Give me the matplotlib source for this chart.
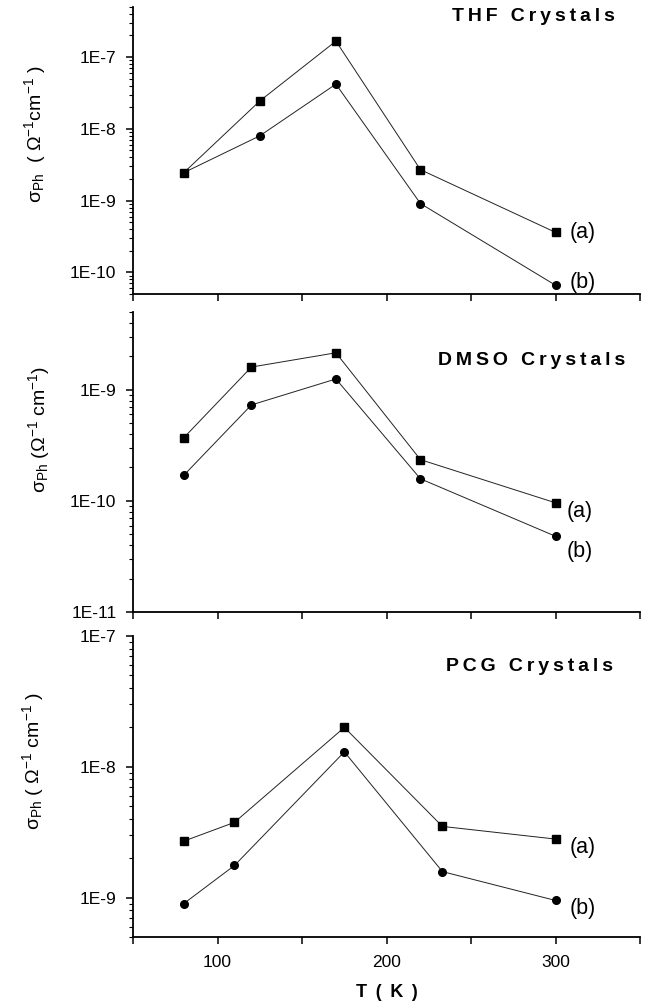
import matplotlib
matplotlib.use('Agg')
import matplotlib.pyplot as plt
from matplotlib.ticker import LogLocator, MultipleLocator, FuncFormatter, NullFormatter
import numpy as np

plt.rcParams['font.family'] = ['Liberation Sans', 'DejaVu Sans']
plt.rcParams['mathtext.fontset'] = 'custom'
plt.rcParams['mathtext.rm'] = 'Liberation Sans'
plt.rcParams['mathtext.it'] = 'Liberation Sans:italic'
plt.rcParams['mathtext.bf'] = 'Liberation Sans:bold'

###
# data

T_thf = [80, 125, 170, 220, 300]
thf_a = [2.45e-9, 2.45e-8, 1.67e-7, 2.7e-9, 3.6e-10]
thf_b = [2.45e-9, 8.0e-9, 4.2e-8, 9.1e-10, 6.6e-11]

T_dmso = [80, 120, 170, 220, 300]
dmso_a = [3.7e-10, 1.6e-9, 2.15e-9, 2.35e-10, 9.6e-11]
dmso_b = [1.7e-10, 7.3e-10, 1.25e-9, 1.58e-10, 4.8e-11]

T_pcg = [80, 110, 175, 233, 300]
pcg_a = [2.7e-9, 3.76e-9, 2.0e-8, 3.5e-9, 2.8e-9]
pcg_b = [9.0e-10, 1.76e-9, 1.3e-8, 1.58e-9, 9.5e-10]

panel_names = ['THF Crystals', 'DMSO Crystals', 'PCG Crystals']
ylabels = ['σ$_{\\mathrm{Ph}}$  ( Ω$^{\\mathrm{-1}}$cm$^{\\mathrm{-1}}$ )',
           'σ$_{\\mathrm{Ph}}$ (Ω$^{\\mathrm{-1}}$ cm$^{\\mathrm{-1}}$)',
           'σ$_{\\mathrm{Ph}}$ ( Ω$^{\\mathrm{-1}}$ cm$^{\\mathrm{-1}}$ )']
xlabel = 'T \u2009( \u2009K \u2009)'


def spaced(s):
    # letter-spaced bold text, like the original
    return '\u2009'.join(s)


###
# layout

fig = plt.figure(figsize=(6.46, 10.05), dpi=100)
ax1 = fig.add_axes([0.206, 0.7075, 0.785, 0.2856])
ax2 = fig.add_axes([0.206, 0.391, 0.785, 0.2985])
ax3 = fig.add_axes([0.206, 0.0677, 0.785, 0.2995])
axes = [ax1, ax2, ax3]

ylims = [(5e-11, 5e-7), (1e-11, 5e-9), (5e-10, 1e-7)]
title_pos = [(0.951, 0.965), (0.970, 0.84), (0.947, 0.897)]
ylabel_pos = [(-0.168, 0.557), (-0.159, 0.607), (-0.171, 0.585)]
ab_offsets = [((10, 0), (10, 2)), ((8, -6), (8, -11)), ((10, -6), (10, -6))]

series = [(T_thf, thf_a, thf_b), (T_dmso, dmso_a, dmso_b), (T_pcg, pcg_a, pcg_b)]


def sci_label(v, pos):
    return '1E%d' % int(round(np.log10(v)))


for i, ax in enumerate(axes):
    T, ya, yb = series[i]
    ax.plot(T, yb, color='#222222', lw=0.7, marker='o', ms=5.5, mfc='k', mec='k')
    ax.plot(T, ya, color='#222222', lw=0.7, marker='s', ms=5.5, mfc='k', mec='k')

    ax.set_yscale('log')
    ax.set_xlim(50, 350)
    ax.set_ylim(*ylims[i])

    ax.yaxis.set_major_locator(LogLocator(base=10, numticks=10))
    ax.yaxis.set_minor_locator(LogLocator(base=10, subs=np.arange(2, 10), numticks=20))
    ax.yaxis.set_major_formatter(FuncFormatter(sci_label))
    ax.yaxis.set_minor_formatter(NullFormatter())

    ax.xaxis.set_major_locator(MultipleLocator(100))
    ax.xaxis.set_minor_locator(MultipleLocator(50))
    if i < 2:
        ax.tick_params(axis='x', which='both', labelbottom=False)

    for s in ['top', 'right']:
        ax.spines[s].set_visible(False)
    for s in ['left', 'bottom']:
        ax.spines[s].set_linewidth(1.3)

    ax.tick_params(axis='both', which='major', direction='out', length=5, width=1.1,
                   labelsize=12.5)
    ax.tick_params(axis='y', which='major', pad=7)
    ax.tick_params(axis='x', which='major', pad=8)
    ax.tick_params(axis='x', which='minor', direction='out', length=5, width=1.1)
    ax.tick_params(axis='y', which='minor', direction='out', length=3, width=0.8)

    ax.set_ylabel(ylabels[i], fontsize=14)
    ax.yaxis.set_label_coords(*ylabel_pos[i])

    ax.text(title_pos[i][0], title_pos[i][1], spaced(panel_names[i]), transform=ax.transAxes,
            ha='right', va='center', fontsize=14, fontweight='bold')

    ax.annotate('(a)', xy=(T[-1], ya[-1]), xytext=ab_offsets[i][0], textcoords='offset points',
                ha='left', va='center', fontsize=15.5)
    ax.annotate('(b)', xy=(T[-1], yb[-1]), xytext=ab_offsets[i][1], textcoords='offset points',
                ha='left', va='center', fontsize=15.5)

ax3.set_xlabel(xlabel, fontsize=13, fontweight='bold', labelpad=10)

plt.savefig('out.png', dpi=100)
plt.close(fig)
